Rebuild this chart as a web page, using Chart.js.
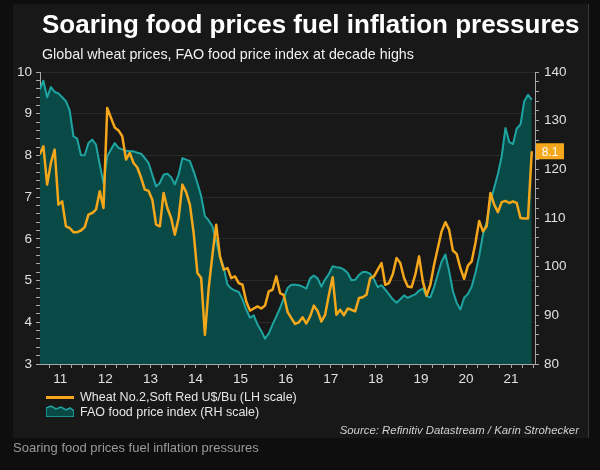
<!DOCTYPE html>
<html>
<head>
<meta charset="utf-8">
<script src="https://cdn.jsdelivr.net/npm/chart.js@4/dist/chart.umd.min.js"></script>
<style>
  html, body { margin: 0; padding: 0; background: #0e0e0e; }
  #wrap { position: relative; width: 600px; height: 470px; overflow: hidden; font-family: "Liberation Sans", Arial, sans-serif; }
  #panel { position: absolute; left: 13px; top: 4px; width: 575px; height: 434px; background: #181818; border-right: 1px solid #3a3a3a; }
  #chart { position: absolute; left: 0; top: 0; }
  .txt { position: absolute; white-space: nowrap; line-height: 1; }
  #title { left: 42px; top: 11px; font-size: 26px; font-weight: bold; color: #ffffff; }
  #subtitle { left: 42px; top: 47px; font-size: 14.3px; color: #f0f0f0; }
  .leg { left: 46px; font-size: 12.5px; color: #e6e6e6; }
  .leg span { display: inline-block; vertical-align: middle; }
  .sw { width: 28px; margin-right: 6px; }
  #source { right: 21px; top: 425px; font-size: 11.4px; font-style: italic; color: #d0d0d0; }
  #caption { left: 13px; top: 441px; font-size: 13px; color: #9a9a9a; }
</style>
</head>
<body>
<div id="wrap">
  <div id="panel"></div>
  <canvas id="chart" width="600" height="470"></canvas>
  <div class="txt" id="title">Soaring food prices fuel inflation pressures</div>
  <div class="txt" id="subtitle">Global wheat prices, FAO food price index at decade highs</div>
  <div class="txt leg" style="top:391px"><span class="sw" style="height:3px;background:#f5a71b"></span><span>Wheat No.2,Soft Red U$/Bu (LH scale)</span></div>
  <div class="txt leg" style="top:405px"><span class="sw"><svg width="28" height="12" viewBox="0 0 28 12"><path d="M0 3 L5 1 L10 4 L15 2 L20 5 L24 3 L28 6 L28 12 L0 12 Z" fill="#0a4a46" stroke="#1ea5a2" stroke-width="1.5"/></svg></span><span>FAO food price index (RH scale)</span></div>
  <div class="txt" id="source">Source: Refinitiv Datastream / Karin Strohecker</div>
  <div class="txt" id="caption">Soaring food prices fuel inflation pressures</div>
</div>
<script>
// Monthly readings, Jan 2011 .. Dec 2021
const startYear = 2011;

// Wheat No.2 Soft Red, US$/bushel (left scale)
const wheatPrices = [
  8.02, 8.22, 7.3, 7.82, 8.14, 6.82, 6.9, 6.3, 6.26, 6.16, 6.16, 6.2,
  6.28, 6.58, 6.62, 6.7, 7.14, 6.74, 9.14, 8.9, 8.67, 8.6, 8.46, 7.9,
  8.06, 7.82, 7.71, 7.47, 7.18, 7.15, 6.94, 6.34, 6.3, 7.1, 6.74, 6.5,
  6.1, 6.5, 7.3, 7.12, 6.82, 6.14, 5.18, 5.06, 3.7, 4.82, 5.62, 6.34,
  5.58, 5.26, 5.3, 5.06, 5.1, 4.94, 4.9, 4.5, 4.28, 4.33, 4.38, 4.33,
  4.4, 4.74, 4.78, 5.1, 4.7, 4.65, 4.25, 4.1, 3.96, 4.0, 4.12, 3.97,
  4.14, 4.4, 4.27, 4.02, 4.18, 4.66, 5.08, 4.18, 4.3, 4.17, 4.33, 4.3,
  4.26, 4.58, 4.6, 4.66, 5.06, 5.1, 5.26, 5.42, 4.9, 4.94, 5.15, 5.54,
  5.42, 5.06, 4.86, 4.84, 5.14, 5.58, 4.98, 4.64, 4.9, 5.38, 5.78, 6.18,
  6.4, 6.22, 5.72, 5.64, 5.3, 5.04, 5.36, 5.46, 5.9, 6.43, 6.18, 6.3,
  7.1, 6.82, 6.64, 6.88, 6.91, 6.86, 6.9, 6.86, 6.5, 6.49, 6.49, 8.1
];

// FAO food price index (right scale)
const faoIndex = [
  136.4, 138.2, 134.8, 136.9, 135.9, 135.6, 134.8, 134.0, 132.1, 126.8, 126.3, 122.9,
  122.9, 125.4, 126.1, 125.1, 121.0, 117.2, 122.7, 124.1, 125.4, 124.4, 124.1, 123.8,
  123.7, 123.7, 123.4, 123.2, 122.3, 121.3, 118.9, 116.5, 117.2, 118.9, 119.1, 118.4,
  116.9, 118.9, 122.3, 122.0, 121.7, 119.6, 117.2, 114.5, 110.4, 109.5, 108.3, 105.2,
  102.2, 99.8, 96.3, 95.5, 95.1, 94.8, 93.3, 91.2, 89.5, 90.0, 88.1, 86.8,
  85.2, 86.3, 88.1, 89.8, 91.5, 93.6, 95.6, 96.3, 96.3, 96.2, 95.9, 95.5,
  97.6, 98.2, 97.6, 95.9, 97.4, 98.5, 100.1, 99.9, 99.8, 99.4, 98.7, 97.2,
  97.3, 98.3, 98.9, 98.9, 98.5, 97.4, 95.8, 96.2, 95.3, 94.3, 93.3, 92.6,
  93.3, 94.1, 93.6, 94.0, 94.3, 95.1, 95.5, 93.9, 93.7, 95.8, 98.5, 101.0,
  102.5, 99.1, 95.0, 92.6, 91.2, 93.6, 94.4, 95.9, 98.7, 102.2, 106.6, 109.3,
  113.4, 116.2, 119.1, 122.7, 128.5, 125.6, 125.2, 128.4, 129.2, 134.0, 135.3, 134.3
];

// Mid-month positions in decimal years
const months = wheatPrices.map((_, i) => startYear + (i + 0.5) / 12);

const leftMin = 3, leftMax = 10;
const rightMin = 80, rightMax = 140;

const AXIS = '#a8a8a8';
const TICK_TEXT = '#e0e0e0';

function isWhole(v) {
  return Math.abs(v - Math.round(v)) < 1e-6;
}

// Small orange box on the right axis with the latest wheat price
const lastValueLabel = {
  id: 'lastValueLabel',
  afterDraw(chart) {
    const ctx = chart.ctx;
    const last = wheatPrices[wheatPrices.length - 1];
    const y = chart.scales.y.getPixelForValue(last);
    const x = chart.chartArea.right + 1;
    ctx.save();
    ctx.fillStyle = '#f5a71b';
    ctx.fillRect(x, y - 8, 28, 16);
    ctx.fillStyle = '#ffffff';
    ctx.font = '12px "Liberation Sans", Arial, sans-serif';
    ctx.textAlign = 'center';
    ctx.textBaseline = 'middle';
    ctx.fillText(last.toFixed(1), x + 14, y + 1);
    ctx.restore();
  }
};

Chart.defaults.font.family = '"Liberation Sans", Arial, sans-serif';
Chart.defaults.font.size = 13.5;
Chart.defaults.color = TICK_TEXT;

new Chart(document.getElementById('chart'), {
  type: 'line',
  data: {
    datasets: [
      {
        label: 'Wheat No.2,Soft Red U$/Bu (LH scale)',
        data: months.map((m, i) => ({ x: m, y: wheatPrices[i] })),
        yAxisID: 'y',
        borderColor: '#f5a71b',
        borderWidth: 2.5,
        pointRadius: 0,
        tension: 0,
        fill: false,
        borderJoinStyle: 'round'
      },
      {
        label: 'FAO food price index (RH scale)',
        data: months.map((m, i) => ({ x: m, y: faoIndex[i] })),
        yAxisID: 'y2',
        borderColor: '#1ea5a2',
        backgroundColor: '#0a4a46',
        borderWidth: 2,
        pointRadius: 0,
        tension: 0,
        fill: 'start',
        borderJoinStyle: 'round'
      }
    ]
  },
  options: {
    responsive: false,
    animation: false,
    layout: { padding: { top: 72, left: 0, right: 0, bottom: 0 } },
    plugins: {
      legend: { display: false },
      tooltip: { enabled: false },
      title: { display: false }
    },
    scales: {
      x: {
        type: 'linear',
        min: 2011.05,
        max: 2022.03,
        afterFit: s => { s.height = 106; },
        afterBuildTicks: s => {
          const t = [];
          for (let k = 2011 * 4 + 1; k <= 2022 * 4; k++) t.push({ value: k / 4 });
          s.ticks = t;
        },
        ticks: {
          autoSkip: false,
          maxRotation: 0,
          padding: 3,
          color: TICK_TEXT,
          callback: v => (Math.abs(v % 1 - 0.5) < 1e-6 ? String(Math.floor(v) % 100) : '')
        },
        grid: { drawOnChartArea: false, tickLength: 4, tickColor: AXIS },
        border: { color: AXIS, width: 1 }
      },
      y: {
        position: 'left',
        min: leftMin,
        max: leftMax,
        afterFit: s => { s.width = 40; },
        afterBuildTicks: s => {
          const t = [];
          for (let k = leftMin * 5; k <= leftMax * 5; k++) t.push({ value: k / 5 });
          s.ticks = t;
        },
        ticks: {
          autoSkip: false,
          padding: 4,
          color: TICK_TEXT,
          callback: v => (isWhole(v) ? String(Math.round(v)) : '')
        },
        grid: {
          tickLength: 4,
          tickColor: AXIS,
          color: c => (c.tick && isWhole(c.tick.value) ? '#2a2a2a' : 'rgba(0,0,0,0)')
        },
        border: { color: AXIS, width: 1 }
      },
      y2: {
        position: 'right',
        min: rightMin,
        max: rightMax,
        afterFit: s => { s.width = 65; },
        afterBuildTicks: s => {
          const t = [];
          for (let v = rightMin; v <= rightMax; v += 2) t.push({ value: v });
          s.ticks = t;
        },
        ticks: {
          autoSkip: false,
          padding: 5,
          color: TICK_TEXT,
          callback: v => (v % 10 === 0 ? String(v) : '')
        },
        grid: { drawOnChartArea: false, tickLength: 4, tickColor: AXIS },
        border: { color: AXIS, width: 1 }
      }
    }
  },
  plugins: [lastValueLabel]
});
</script>
</body>
</html>
